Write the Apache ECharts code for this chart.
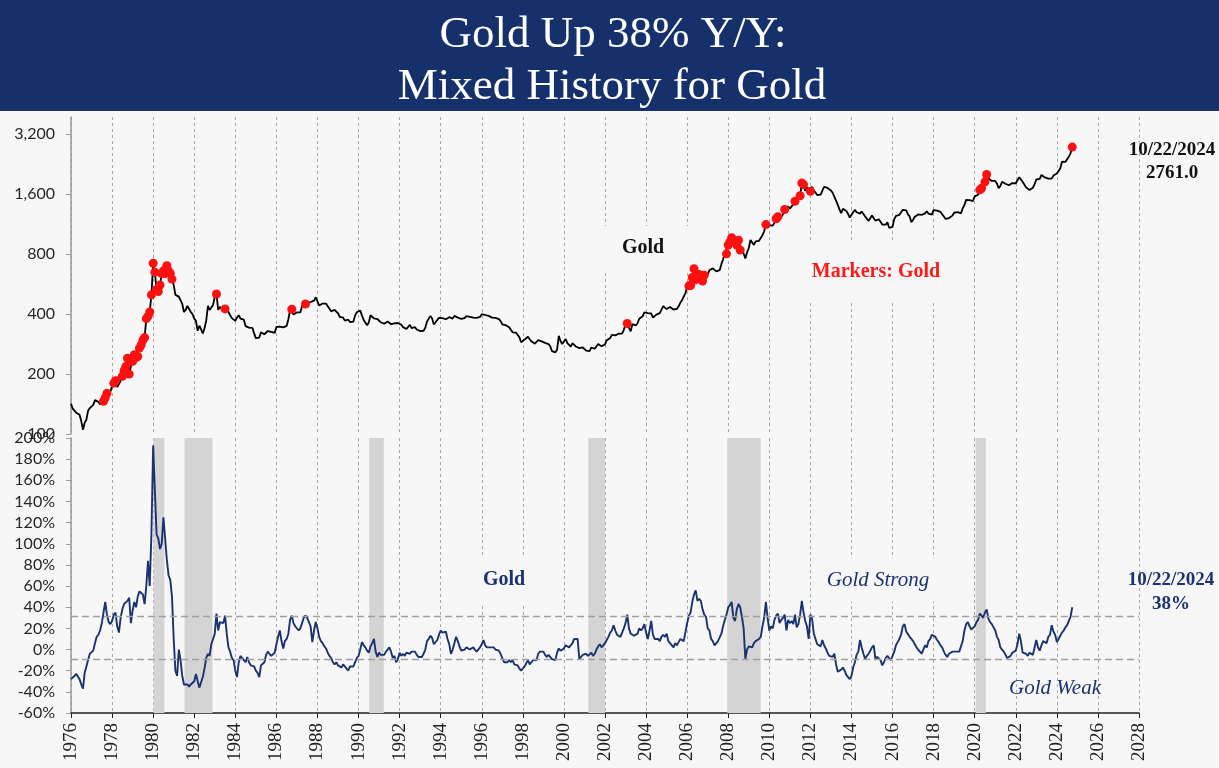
<!DOCTYPE html>
<html>
<head>
<meta charset="utf-8">
<script src="https://cdn.jsdelivr.net/npm/echarts@6/dist/echarts.min.js"></script>
<style>
html,body{margin:0;padding:0;background:#f7f7f7;}
#chart{width:1219px;height:768px;}
</style>
</head>
<body>
<div id="chart"></div>
<script>
// ---------- DATA ----------
const startYear = 1976;           // first monthly observation (Jan 1976)
// Gold price, USD/oz, monthly (Jan 1976 .. Oct 2024)
const goldPrice = [
142,134,131,128,127,125,116,105,114,118,131,135,
133,140,148,150,145,141,144,146,152,160,162,163,
174,180,185,172,178,185,195,208,218,240,200,218,
232,250,242,245,270,280,296,305,380,390,410,500,
720,650,530,520,560,640,660,640,700,660,640,600,
560,500,500,490,480,450,410,420,440,430,410,400,
380,370,330,350,335,320,340,370,440,420,415,445,
490,505,420,435,440,415,425,420,410,395,382,388,
370,385,395,380,378,375,348,348,342,340,341,320,
303,299,305,324,317,317,318,329,324,326,325,322,
345,339,346,340,343,343,349,377,420,423,398,391,
408,401,408,440,460,450,451,461,460,465,468,486,
478,442,444,452,451,452,438,432,413,407,420,419,
404,388,390,384,371,368,375,365,362,367,394,409,
410,417,393,374,369,352,363,395,389,381,382,378,
384,364,363,358,357,367,368,356,349,359,360,361,
355,354,344,339,337,341,353,340,345,344,335,335,
329,329,330,342,367,372,392,380,355,364,374,383,
387,382,384,377,381,386,386,380,392,390,384,379,
379,377,382,391,385,388,386,384,383,383,386,387,
400,405,396,393,392,385,384,388,383,381,378,369,
355,347,352,345,344,341,324,324,323,325,306,289,
289,298,296,308,299,292,293,284,289,296,294,292,
287,287,286,283,276,261,256,257,265,311,293,283,
284,300,286,280,275,286,282,275,274,270,266,272,
266,262,263,261,272,270,268,272,283,283,276,276,
282,296,294,303,315,321,313,310,319,317,319,333,
357,359,341,328,356,356,351,360,379,379,390,408,
414,405,407,403,384,392,398,401,405,421,439,442,
424,423,434,429,422,431,425,438,456,470,477,510,
550,555,557,611,676,596,634,633,598,586,628,630,
631,665,655,679,667,656,665,665,713,755,806,803,
890,922,968,910,889,890,940,839,830,807,761,816,
859,943,924,890,929,946,934,949,997,1043,1127,1135,
1118,1095,1113,1149,1205,1233,1193,1216,1271,1342,1370,1391,
1356,1373,1424,1474,1510,1529,1573,1820,1790,1665,1739,1652,
1656,1743,1674,1650,1586,1597,1594,1630,1745,1747,1722,1685,
1672,1628,1593,1488,1414,1343,1286,1352,1349,1317,1276,1222,
1244,1300,1336,1299,1289,1279,1311,1295,1237,1223,1176,1200,
1251,1227,1179,1199,1199,1182,1128,1118,1125,1159,1086,1068,
1098,1200,1245,1242,1261,1276,1337,1340,1327,1267,1238,1157,
1192,1234,1231,1267,1246,1260,1237,1283,1314,1280,1282,1265,
1331,1331,1325,1335,1304,1282,1238,1202,1198,1215,1221,1250,
1292,1320,1301,1286,1284,1359,1413,1500,1511,1495,1470,1479,
1561,1597,1592,1683,1716,1732,1847,2010,1922,1900,1866,1858,
1867,1808,1718,1760,1850,1835,1808,1785,1775,1777,1821,1790,
1816,1856,1948,1937,1849,1837,1733,1765,1681,1665,1725,1798,
1898,1855,1913,2000,1991,1943,1951,1919,1916,1918,1986,2027,
2034,2023,2158,2331,2351,2326,2398,2470,2570,2761
];
// Gold year-over-year change, %, monthly (Jan 1976 .. Oct 2024)
const goldYoY = [
-28,-27,-25,-23,-24,-28,-33,-37,-22,-16,-10,-4,
-3,-1,6,12,14,18,25,35,45,33,26,24,
27,33,35,22,16,30,38,43,44,46,49,25,
37,45,40,50,55,56,52,43,60,84,60,110,
193,150,109,105,95,100,125,105,85,70,66,50,
10,-20,-25,0,-10,-25,-33,-34,-33,-35,-33,-34,
-30,-23,-30,-36,-31,-26,-18,-8,-4,-6,5,10,
15,34,18,26,27,25,32,15,2,-2,-8,-10,
-20,-26,-12,-6,-8,-10,-12,-7,-12,-15,-14,-16,
-20,-22,-26,-15,-14,-12,-5,-2,-4,-6,-7,-3,
5,12,18,8,1,8,10,15,28,32,25,22,
21,18,20,25,30,32,30,29,22,7,18,26,
20,12,8,6,3,1,-3,-6,-8,-12,-14,-12,
-15,-14,-17,-14,-15,-18,-20,-16,-15,-16,-12,-8,
-6,0,7,4,2,-1,-3,3,6,10,-2,-7,
-3,-5,-4,-5,-2,0,2,-2,-8,-6,-12,-9,
-3,-6,-4,-6,-3,-2,-4,-2,-1,-2,-5,-7,
-8,-7,-4,0,8,10,13,11,5,4,9,14,
18,16,17,17,10,5,-4,0,6,12,8,3,
-1,-2,0,2,1,0,1,2,0,-2,-1,2,
5,9,4,2,1,2,1,2,0,1,-1,-4,
-8,-12,-11,-12,-10,-12,-10,-14,-14,-15,-18,-20,
-20,-16,-13,-10,-14,-12,-10,-11,-10,-4,-2,-1,
-2,-5,-7,-5,-6,-9,-10,-10,-3,1,-1,0,
1,4,3,2,3,6,10,11,10,-9,-7,-5,
-6,-4,-6,-7,-3,-6,-4,0,3,5,2,3,
6,9,12,16,18,23,18,14,14,12,16,20,
25,33,20,15,14,13,12,15,20,18,20,24,
16,10,18,27,14,10,11,10,8,12,14,12,
15,8,6,5,2,6,4,7,10,9,8,9,
25,32,35,45,52,56,46,48,46,38,33,31,
20,18,10,8,4,5,8,7,15,22,28,33,
40,42,45,30,27,38,43,40,31,20,-9,0,
3,4,2,6,8,7,10,12,22,30,45,30,
18,22,20,28,32,34,25,28,30,33,18,28,
25,27,24,33,21,24,33,46,35,27,22,10,
33,29,15,10,5,6,3,9,4,1,-3,-6,
-5,-7,-4,-14,-21,-22,-19,-17,-20,-24,-26,-28,
-25,-17,-12,-5,-2,9,2,-4,-9,-6,-4,-1,
2,4,-9,-7,-6,-10,-15,-12,-8,-6,-8,-10,
-10,-2,4,7,10,14,22,24,17,16,12,10,
8,5,2,0,-2,-4,-3,4,2,8,10,14,
15,12,9,7,4,2,-2,-5,-7,-4,-3,-2,
-1,-2,-1,-2,-1,8,18,24,26,22,19,20,
22,26,28,34,32,30,35,38,29,26,24,23,
18,12,9,2,0,-2,-5,-8,-9,-6,-3,-4,
-1,5,15,8,-3,-2,-4,-6,-3,-2,-5,-6,
9,2,-1,4,8,9,6,12,14,23,17,14,
7,10,13,16,18,21,23,27,31,40
];
const upperBand = 31.6;   // "Gold Strong" threshold
const lowerBand = -9.5;   // "Gold Weak" threshold
// Recession shading (decimal years)
const recessions = [
  [1980.02, 1980.55], [1981.53, 1982.89], [1990.52, 1991.23],
  [2001.19, 2002.0], [2007.95, 2009.58], [2020.05, 2020.54]
];
const xMin = 1976, xMax = 2028, xStep = 2;
const priceTicks = [100, 200, 400, 800, 1600, 3200];
const lastDate = '10/22/2024';
const lastPrice = '2761.0';
const lastYoY = '38%';

// ---------- BUILD ----------
const t = i => startYear + i / 12;
const priceData = goldPrice.map((v, i) => [t(i), v / 100]);
const yoyData = goldYoY.map((v, i) => [t(i), v]);
const markerData = goldPrice.map((v, i) => goldYoY[i] > upperBand ? [t(i), v / 100] : null).filter(Boolean);

const navy = '#1b3270';
const fmtComma = v => String(Math.round(v)).replace(/\B(?=(\d{3})+(?!\d))/g, ',');

const chart = echarts.init(document.getElementById('chart'), null, {renderer: 'canvas'});

const L = 71, R = 1219 - 1139;
const xAxisBase = {
  type: 'value', min: xMin, max: xMax, interval: xStep,
  splitLine: {show: true, lineStyle: {color: '#a9a9a9', type: [3, 3], width: 1}},
};

const option = {
  backgroundColor: '#f7f7f7',
  animation: false,
  grid: [
    {left: L, right: R, top: 117, height: 317},
    {left: L, right: R, top: 438, height: 275}
  ],
  xAxis: [
    Object.assign({}, xAxisBase, {gridIndex: 0, axisLine: {show: false}, axisTick: {show: false}, axisLabel: {show: false}}),
    Object.assign({}, xAxisBase, {
      gridIndex: 1,
      axisLine: {show: true, onZero: false, lineStyle: {color: '#222', width: 1.5}},
      axisTick: {show: true, length: 5, lineStyle: {color: '#222'}},
      axisLabel: {rotate: 90, margin: 10, color: '#222', fontFamily: 'Liberation Serif', fontSize: 19,
        formatter: v => String(v)}
    })
  ],
  yAxis: [
    {
      type: 'log', logBase: 2, gridIndex: 0, min: 1, max: 39.1,
      axisLine: {show: true, lineStyle: {color: '#9a9a9a', width: 1.5}},
      axisTick: {show: true, length: 5, lineStyle: {color: '#9a9a9a'}, customValues: priceTicks.map(v => v / 100)},
      axisLabel: {margin: 16, color: '#262626', fontFamily: 'Lato', fontSize: 16,
        customValues: priceTicks.map(v => v / 100), formatter: v => fmtComma(v * 100)},
      splitLine: {show: false}
    },
    {
      type: 'value', gridIndex: 1, min: -60, max: 200, interval: 20,
      axisLine: {show: true, onZero: false, lineStyle: {color: '#9a9a9a', width: 1.5}},
      axisTick: {show: true, length: 5, lineStyle: {color: '#9a9a9a'}},
      axisLabel: {margin: 16, color: '#262626', fontFamily: 'Lato', fontSize: 16, formatter: v => v + '%'},
      splitLine: {show: false}
    }
  ],
  series: [
    {
      type: 'line', xAxisIndex: 0, yAxisIndex: 0, data: priceData, showSymbol: false,
      lineStyle: {color: '#000', width: 1.8}, z: 3
    },
    {
      type: 'scatter', xAxisIndex: 0, yAxisIndex: 0, data: markerData, symbolSize: 9,
      itemStyle: {color: '#ff1010', opacity: 1}, z: 4
    },
    {
      type: 'line', xAxisIndex: 1, yAxisIndex: 1, data: [], z: 1,
      markArea: {silent: true, itemStyle: {color: '#d4d4d4', opacity: 1},
        data: recessions.map(r => [{xAxis: r[0]}, {xAxis: r[1]}])}
    },
    {
      type: 'line', xAxisIndex: 1, yAxisIndex: 1, data: yoyData, showSymbol: false,
      lineStyle: {color: navy, width: 1.9}, z: 3,
      markLine: {silent: true, symbol: 'none', label: {show: false},
        lineStyle: {color: '#a0a0a0', type: [7, 4], width: 1.3},
        data: [{yAxis: upperBand}, {yAxis: lowerBand}]}
    }
  ],
  graphic: [
    {type: 'rect', left: 0, top: 0, shape: {width: 1219, height: 111}, style: {fill: '#15306a'}, z: 10},
    {type: 'text', x: 613, y: 35, z: 11, style: {text: 'Gold Up 38% Y/Y:', fill: '#fff', font: '45px "Liberation Serif"', align: 'center', verticalAlign: 'middle'}},
    {type: 'text', x: 612, y: 87, z: 11, style: {text: 'Mixed History for Gold', fill: '#fff', font: '45px "Liberation Serif"', align: 'center', verticalAlign: 'middle'}},
    // top panel annotations
    {type: 'text', x: 643, y: 248, z: 1, style: {text: 'Gold', fill: '#111', font: 'bold 20px "Liberation Serif"', align: 'center', verticalAlign: 'middle',
      backgroundColor: '#f7f7f7', padding: [12, 36, 12, 36]}},
    {type: 'text', x: 876, y: 272, z: 1, style: {text: 'Markers: Gold', fill: '#ff1a1a', font: 'bold 20px "Liberation Serif"', align: 'center', verticalAlign: 'middle',
      backgroundColor: '#f7f7f7', padding: [12, 6, 30, 6]}},
    {type: 'text', x: 1172, y: 150, z: 5, style: {text: lastDate, fill: '#111', font: 'bold 19px "Liberation Serif"', align: 'center', verticalAlign: 'middle'}},
    {type: 'text', x: 1172, y: 173, z: 5, style: {text: lastPrice, fill: '#111', font: 'bold 19px "Liberation Serif"', align: 'center', verticalAlign: 'middle'}},
    // bottom panel annotations
    {type: 'text', x: 504, y: 580, z: 1, style: {text: 'Gold', fill: navy, font: 'bold 20px "Liberation Serif"', align: 'center', verticalAlign: 'middle',
      backgroundColor: '#f7f7f7', padding: [14, 30, 14, 30]}},
    {type: 'text', x: 878, y: 580, z: 1, style: {text: 'Gold Strong', fill: navy, font: 'italic 21px "Liberation Serif"', align: 'center', verticalAlign: 'middle',
      backgroundColor: '#f7f7f7', padding: [12, 6, 10, 6]}},
    {type: 'text', x: 1055, y: 688, z: 1, style: {text: 'Gold Weak', fill: navy, font: 'italic 21px "Liberation Serif"', align: 'center', verticalAlign: 'middle'}},
    {type: 'text', x: 1171, y: 580, z: 5, style: {text: lastDate, fill: navy, font: 'bold 19px "Liberation Serif"', align: 'center', verticalAlign: 'middle'}},
    {type: 'text', x: 1171, y: 604, z: 5, style: {text: lastYoY, fill: navy, font: 'bold 19px "Liberation Serif"', align: 'center', verticalAlign: 'middle'}}
  ]
};
chart.setOption(option);
</script>
</body>
</html>
